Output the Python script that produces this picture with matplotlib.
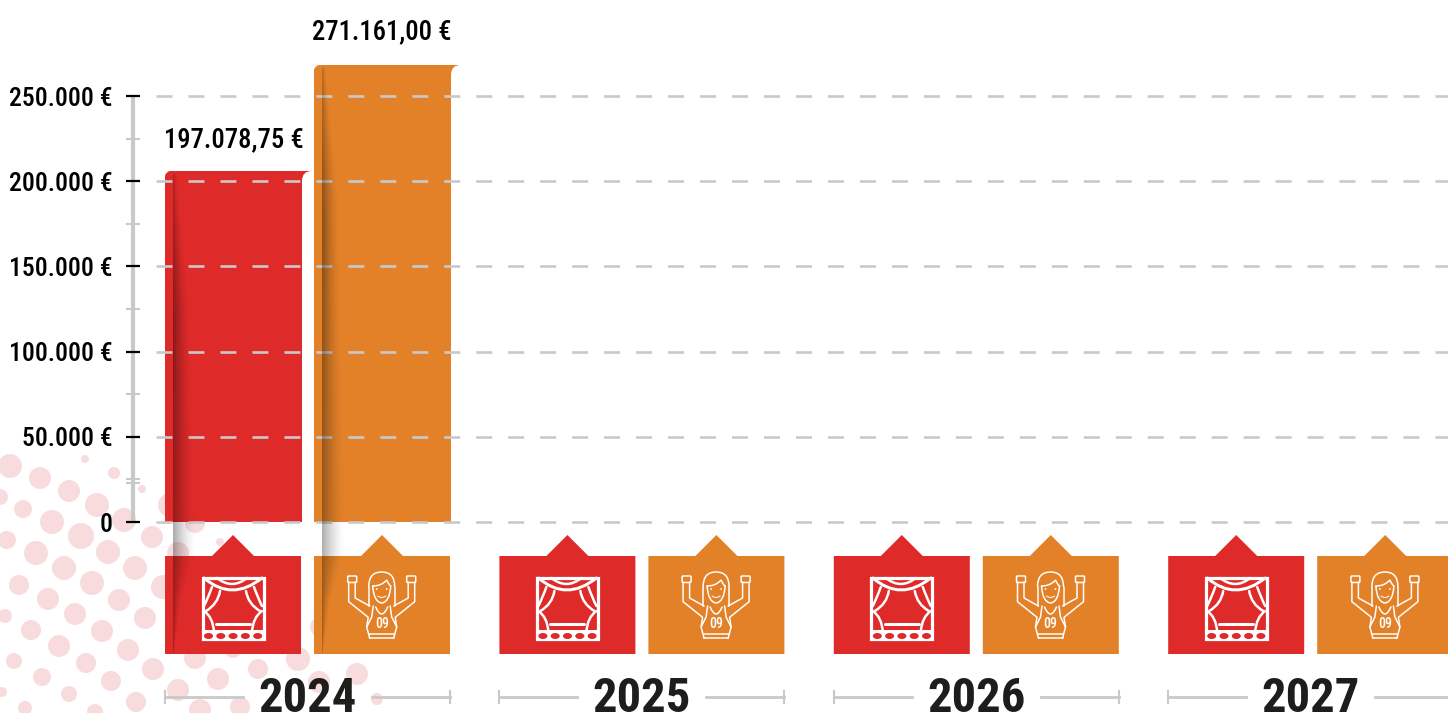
import matplotlib
matplotlib.use('Agg')
import matplotlib.pyplot as plt
import numpy as np
from matplotlib.patches import Ellipse, FancyBboxPatch, PathPatch, Polygon, Rectangle
from matplotlib.path import Path

plt.rcParams['font.family'] = ['Roboto Condensed', 'Barlow Condensed', 'DejaVu Sans']

# data
years = ['2024', '2025', '2026', '2027']
bar_values = [206000, 268200]  # heights as drawn in the picture
bar_labels = ['197.078,75 €', '271.161,00 €']
major_ticks = [0, 50000, 100000, 150000, 200000, 250000]
major_labels = ['0', '50.000 €', '100.000 €', '150.000 €', '200.000 €', '250.000 €']
minor_ticks = [22900, 25000, 75000, 125000, 175000, 225000]

RED = '#df2a2a'
ORANGE = '#e38129'
GREY = '#c9c9c9'
INK = '#1d1d1b'
DOT = '#f8dcdd'

# pale dot pattern, x / y / radius in pixels
dots_x = [10, 40, 69, 97, 85, 114, 142, 23, 52, 81, 108, 135, 124, 152, 7, 36, 64, 92, 119,
          19, 48, 75, 102, 145, 5, 31, 59, 86, 128, 14, 42, 69, 111, 153, 195, 218, 178, 258,
          298, 319, 357, 136, 200, 240, 95, 25, 377, 195, 178, 220, 163, 170, 0, 320, 233, 193, 2]
dots_y = [466, 478, 491, 505, 459, 473, 489, 509, 522, 536, 552, 568, 520, 537, 540, 553, 568,
          583, 600, 585, 599, 614, 631, 618, 616, 630, 646, 663, 650, 661, 677, 694, 681, 669,
          658, 679, 690, 669, 659, 682, 674, 702, 710, 707, 712, 708, 699, 523, 553, 542, 587,
          505, 497, 627, 650, 627, 692]
dots_r = [12, 11, 11, 12, 4, 6, 4, 9, 12, 13, 12, 12, 12, 11, 9, 12, 12, 12, 11, 10, 11, 11,
          11, 11, 7, 10, 11, 10, 11, 8, 9, 8, 10, 11, 11, 11, 11, 10, 12, 11, 11, 10, 11, 10,
          8, 7, 6, 10, 11, 4, 12, 12, 8, 10, 8, 10, 5]

W, H = 1448, 713
Y0 = 522
PX_PER_UNIT = 426 / 250000


def top_px(v):
    return Y0 - v * PX_PER_UNIT


fig = plt.figure(figsize=(W / 100, H / 100), dpi=100)


def px_axes(z):
    a = fig.add_axes([0, 0, 1, 1], zorder=z)
    a.set_xlim(0, W)
    a.set_ylim(H, 0)
    a.axis('off')
    return a


back = px_axes(1)
ax = fig.add_axes([0, 0, 1, 1], zorder=2)
ax.patch.set_alpha(0)
ax.axis('off')
front = px_axes(3)

# background dots and year groups
for x, y, r in zip(dots_x, dots_y, dots_r):
    back.add_patch(Ellipse((x, y), 2 * r, 2 * r, color=DOT, lw=0))


def curve(a, pts, lw=1.5, color='white'):
    # pts: start, then pairs of control + end
    verts = [pts[0]]
    codes = [Path.MOVETO]
    for c, e in pts[1:]:
        verts += [c, e]
        codes += [Path.CURVE3, Path.CURVE3]
    a.add_patch(PathPatch(Path(verts, codes), fc='none', ec=color, lw=lw * 0.72, capstyle='round'))


def poly(a, pts, lw=1.5, color='white'):
    a.plot([p[0] for p in pts], [p[1] for p in pts], color=color, lw=lw * 0.72,
           solid_capstyle='round', solid_joinstyle='round')


def theater(a, dx):
    s = lambda x, y: (x + dx, y)
    a.add_patch(Rectangle(s(202.5, 577.5), 61, 61, fc='none', ec='white', lw=3.2 * 0.72))
    curve(a, [s(204, 578), (s(232, 602), s(262, 578))], 3)
    curve(a, [s(217, 578), (s(232, 590), s(247, 578))], 2.5)
    for m, f in ((233, -1), (233, 1)):
        x = lambda d: m + f * d
        curve(a, [s(x(13), 591), (s(x(15), 604), s(x(27), 611))], 2.5)
        curve(a, [s(x(21), 587), (s(x(25), 598), s(x(29), 606))], 2.5)
        curve(a, [s(x(29), 611), (s(x(20), 617), s(x(19), 632))], 2.5)
    poly(a, [s(216, 624), s(250, 624)], 3)
    a.add_patch(Rectangle(s(203, 630), 60, 9, fc='white', lw=0))
    for i in range(5):
        a.add_patch(Ellipse(s(208.5 + i * 12.3, 636), 9, 6, fc=RED, lw=0))


def woman(a, dx):
    s = lambda x, y: (x + dx, y)
    c = 381.7
    for f in (-1, 1):
        x = lambda d: c + f * d
        a.add_patch(FancyBboxPatch(s(min(x(25), x(34)) + 1, 577), 7, 4.5, boxstyle='round,pad=1',
                                   fc='none', ec='white', lw=1.5 * .72))
        poly(a, [s(x(33), 582), s(x(33), 601.7), s(x(13.5), 617.3), s(x(15), 627), s(x(12), 638.3)])
        poly(a, [s(x(26.5), 582), s(x(26.5), 598), s(x(12), 606)])
        poly(a, [s(x(8.5), 606), s(x(10), 617), s(x(15), 627)])
        a.add_patch(Ellipse(s(x(5), 589), 1.8, 1.8, fc='white', lw=0))
    poly(a, [s(c - 12, 638.3), s(c + 12, 638.3)])
    poly(a, [s(c - 12.5, 633.5), s(c + 12.5, 633.5)])
    poly(a, [s(c - 13, 606), s(c - 13, 586.7)])
    poly(a, [s(c + 13, 606), s(c + 13, 586.7)])
    curve(a, [s(c - 13, 586.7), (s(c - 13, 572), s(c, 572)), (s(c + 13, 572), s(c + 13, 586.7))])
    curve(a, [s(c - 9, 586), (s(c - 8, 602), s(c, 603)), (s(c + 8, 602), s(c + 9, 586))])
    curve(a, [s(c - 9, 586), (s(c, 586), s(c + 5, 580)), (s(c + 7, 585), s(c + 9, 586))])
    curve(a, [s(c - 4, 596), (s(c, 599), s(c + 4, 596))], 1)
    curve(a, [s(c - 6, 607), (s(c, 621), s(c + 6, 607))])
    a.text(c + dx, 623.5, '09', color='white', fontsize=10, fontweight=500, ha='center', va='center')


for i, year in enumerate(years):
    dx = i * 334.4
    for x0, col in ((165, RED), (314, ORANGE)):
        cx = x0 + 68 + dx
        back.add_patch(Polygon([(x0 + dx, 556), (cx - 21, 556), (cx, 535), (cx + 21, 556),
                                (x0 + 136 + dx, 556), (x0 + 136 + dx, 654), (x0 + dx, 654)],
                               closed=True, fc=col, lw=0))
    theater(back, dx)
    woman(back, dx)
    back.plot([165 + dx, 243 + dx], [697, 697], color=GREY, lw=2)
    back.plot([372 + dx, 450 + dx], [697, 697], color=GREY, lw=2)
    back.plot([165 + dx, 165 + dx], [691, 703], color=GREY, lw=1.5)
    back.plot([450 + dx, 450 + dx], [691, 703], color=GREY, lw=1.5)
    back.text(307.5 + dx, 711.5, year, color=INK, fontsize=35, fontweight='bold', ha='center', va='baseline')

# value axes, x stays in pixels
ax.set_xlim(0, W)
ax.set_ylim((Y0 - H) / PX_PER_UNIT, Y0 / PX_PER_UNIT)

bars = ax.bar([233.5, 382.5], bar_values, width=137, color=[RED, ORANGE], zorder=2)
ax.vlines(133, 0, 250000, color=GREY, lw=3, zorder=3)
ax.hlines(minor_ticks, 126, 140, color=GREY, lw=1.5, zorder=3)
ax.hlines(major_ticks, 126, 140, color='black', lw=1.6, zorder=4)
for v in major_ticks:
    ax.plot([156, W], [v, v], color=GREY, lw=1.9, zorder=5,
            linestyle=(0, (16 / 1.39 / 1.9, 16 / 1.39 / 1.9)), dash_capstyle='butt')
for v, lab in zip(major_ticks, major_labels):
    ax.text(113, v, lab, color='black', fontsize=18.5, fontweight=500, ha='right', va='center_baseline')
ax.text(233.5, bar_values[0] + 34 / PX_PER_UNIT, bar_labels[0], color='black', fontsize=19.2, fontweight=500,
        ha='center', va='center_baseline')
ax.text(382, bar_values[1] + 36 / PX_PER_UNIT, bar_labels[1], color='black', fontsize=19.2, fontweight=500,
        ha='center', va='center_baseline')

# curled corners and fold shadows on top
for x0, v, col in ((165, bar_values[0], RED), (314, bar_values[1], ORANGE)):
    t = top_px(v)
    front.add_patch(PathPatch(Path([(x0 - 1, t - 1), (x0 + 8, t - 1), (x0, t), (x0 - 1, t + 8), (x0 - 1, t - 1)],
                                   [Path.MOVETO, Path.LINETO, Path.CURVE3, Path.CURVE3, Path.CLOSEPOLY]),
                              fc='white', lw=0))
    r = x0 + 137
    front.add_patch(PathPatch(Path([(r - 1, t), (r + 10, t), (r, t), (r, t + 10), (r - 1, t + 10), (r - 1, t)],
                                   [Path.MOVETO, Path.LINETO, Path.CURVE3, Path.CURVE3, Path.LINETO,
                                    Path.CLOSEPOLY]), fc=col, lw=0))
    # fold: narrow at the top, widest near the zero line, closing to a point at the block foot
    xs = x0 + 8
    rows = np.arange(t + 3, 653)
    cols = np.linspace(0, 30, 120)
    width = np.interp(rows, [t + 3, t + 130, 552, 600, 652], [4, 17, 24, 9, 1])
    alpha = np.interp(rows, [t + 3, t + 150, 652], [0.22, 0.40, 0.30])
    shade = np.zeros((len(rows), len(cols), 4))
    shade[..., 3] = alpha[:, None] * np.clip(1 - cols[None, :] / width[:, None], 0, 1) ** 1.6
    front.imshow(shade, extent=[xs, xs + 30, rows[-1], rows[0]], aspect='auto', zorder=4,
                 interpolation='bilinear')
front.set_xlim(0, W)
front.set_ylim(H, 0)

fig.savefig('out.png', dpi=100)
